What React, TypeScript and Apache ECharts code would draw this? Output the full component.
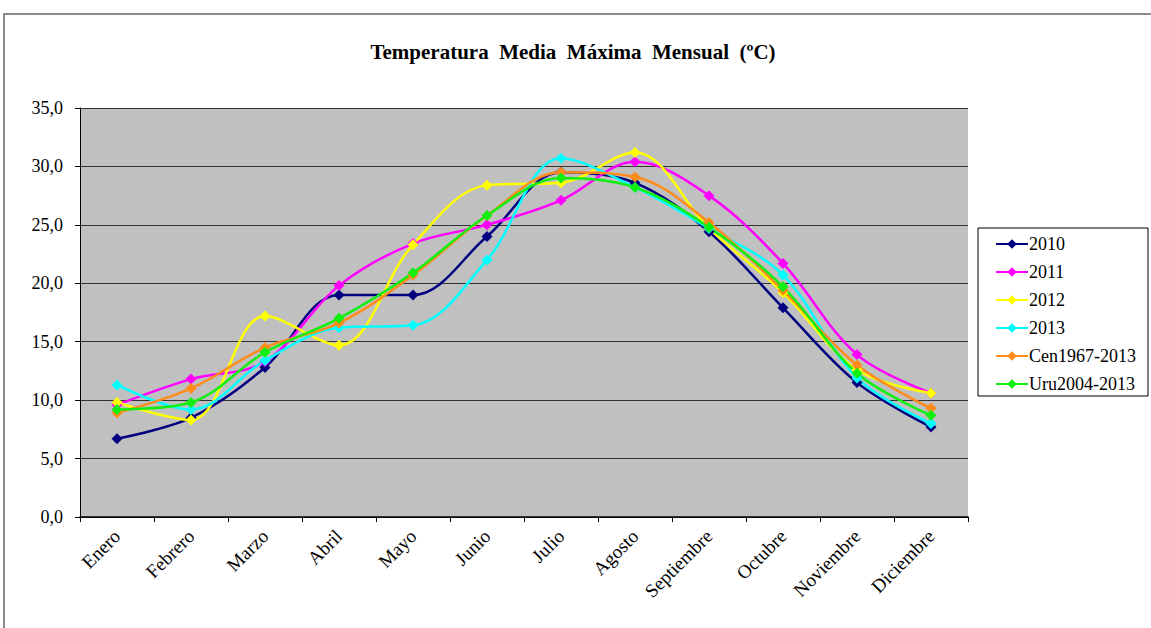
import React, { useEffect, useRef } from "react";
import * as echarts from "echarts";

const months = ["Enero", "Febrero", "Marzo", "Abril", "Mayo", "Junio", "Julio", "Agosto", "Septiembre", "Octubre", "Noviembre", "Diciembre"];
const s2010 = [6.7, 8.5, 12.8, 19.0, 19.0, 24.0, 29.5, 28.6, 24.4, 17.9, 11.5, 7.7];
const s2011 = [9.6, 11.8, 13.3, 19.8, 23.4, 25.0, 27.1, 30.4, 27.5, 21.7, 13.9, 10.6];
const s2012 = [9.8, 8.3, 17.2, 14.7, 23.3, 28.4, 28.6, 31.2, 24.7, 19.2, 12.6, 10.6];
const s2013 = [11.3, 9.2, 13.4, 16.2, 16.4, 22.0, 30.7, 28.2, 24.7, 20.7, 11.9, 8.0];
const sCen = [8.9, 11.0, 14.5, 16.6, 20.7, 25.8, 29.5, 29.1, 25.2, 19.4, 13.0, 9.3];
const sUru = [9.2, 9.8, 14.1, 17.0, 20.9, 25.8, 29.0, 28.2, 24.8, 19.7, 12.3, 8.7];
const seriesNames = ["2010", "2011", "2012", "2013", "Cen1967-2013", "Uru2004-2013"];
const seriesColors = ["#000080", "#FF00FF", "#FFFF00", "#00FFFF", "#FF8C1A", "#11EE11"];
const seriesData = [s2010, s2011, s2012, s2013, sCen, sUru];

const FONT = "Liberation Serif";

export default function App() {
  const ref = useRef<HTMLDivElement>(null);
  useEffect(() => {
    if (!ref.current) return;
    const chart = echarts.init(ref.current, null, { renderer: "svg" });
    chart.setOption({
      animation: false,
      backgroundColor: "#ffffff",
      textStyle: { fontFamily: FONT },
      graphic: [
        {
          type: "rect",
          shape: { x: 4, y: 14, width: 1200, height: 700 },
          style: { fill: "none", stroke: "#8a8a8a", lineWidth: 2 },
          silent: true,
        },
      ],
      title: {
        text: "Temperatura  Media  Máxima  Mensual  (ºC)",
        left: 568,
        top: 36,
        textAlign: "center",
        textStyle: { fontFamily: FONT, fontSize: 21, fontWeight: "bold", color: "#000" },
      },
      legend: {
        orient: "vertical",
        left: 978,
        top: 228,
        padding: [7, 12, 3, 17],
        itemWidth: 32,
        itemHeight: 12,
        itemGap: 10,
        borderColor: "#000",
        borderWidth: 1,
        backgroundColor: "#fff",
        data: seriesNames,
        textStyle: { fontFamily: FONT, fontSize: 18, color: "#000", padding: [0, 0, 0, -4] },
      },
      grid: { left: 80, right: 183, top: 108, bottom: 111, show: true, backgroundColor: "#C0C0C0", borderWidth: 0 },
      xAxis: {
        type: "category",
        data: months,
        boundaryGap: true,
        axisLine: { show: true, lineStyle: { color: "#000", width: 1.5 } },
        axisTick: { show: true, alignWithLabel: false, length: 5, lineStyle: { color: "#000" } },
        axisLabel: { rotate: 45, fontFamily: FONT, fontSize: 19, color: "#000", margin: 16, interval: 0 },
      },
      yAxis: {
        type: "value",
        min: 0,
        max: 35,
        interval: 5,
        axisLine: { show: true, lineStyle: { color: "#000", width: 1 } },
        axisTick: { show: true, length: 5, lineStyle: { color: "#000" } },
        splitLine: { show: true, lineStyle: { color: "#333", width: 1.2 } },
        axisLabel: {
          fontFamily: FONT,
          fontSize: 18,
          color: "#000",
          margin: 17,
          formatter: (v: number) => v.toFixed(1).replace(".", ","),
        },
      },
      series: seriesNames.map((name, i) => ({
        name,
        type: "line",
        data: seriesData[i],
        smooth: 0.35,
        symbol: "diamond",
        symbolSize: 11,
        lineStyle: { width: 2.5, color: seriesColors[i] },
        itemStyle: { color: seriesColors[i] },
      })),
    });
    return () => chart.dispose();
  }, []);
  return <div ref={ref} style={{ position: "fixed", left: 0, top: 0, width: 1151, height: 628 }} />;
}
